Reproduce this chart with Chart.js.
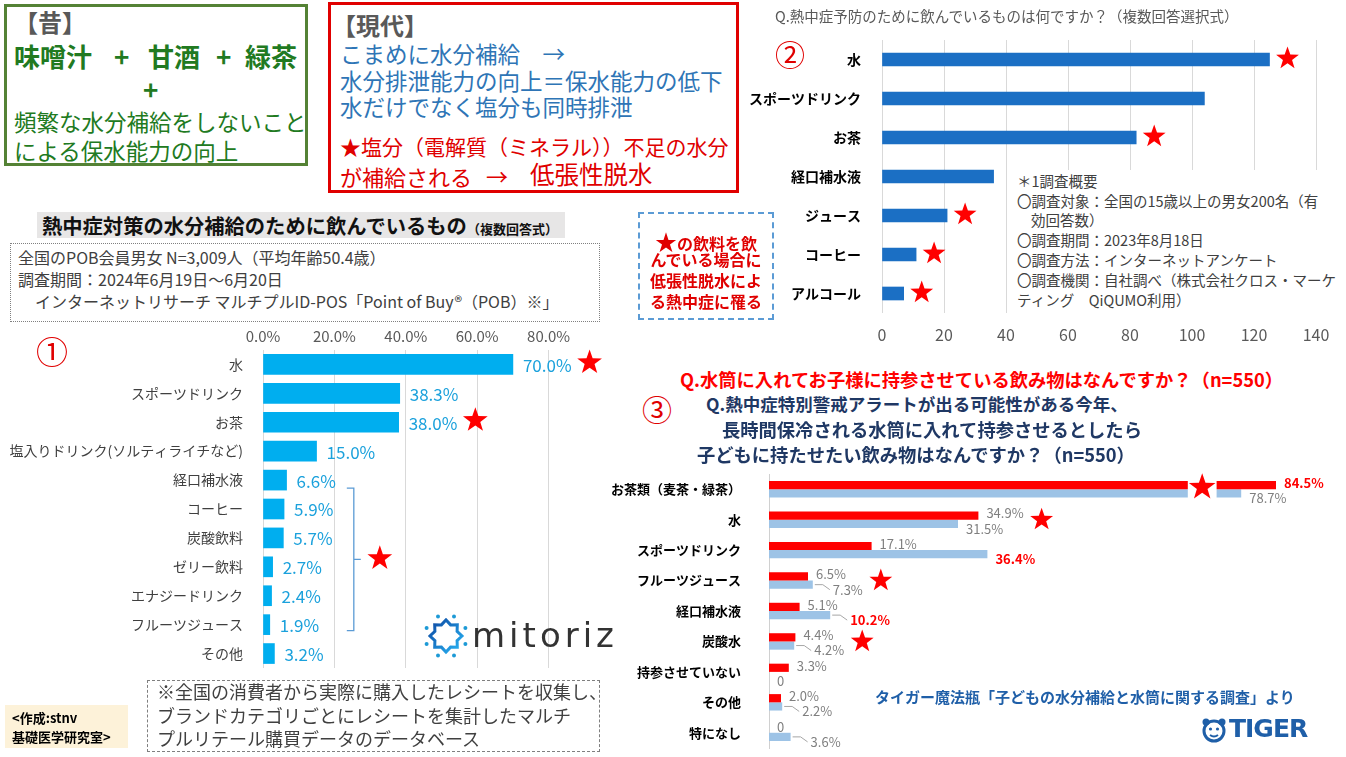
<!DOCTYPE html>
<html><head><meta charset="utf-8">
<script src="https://cdn.jsdelivr.net/npm/chart.js@4.4.1/dist/chart.umd.min.js"></script>
<style>
html,body{margin:0;padding:0;background:#fff;}
body{width:1346px;height:757px;position:relative;overflow:hidden;font-family:"Noto Sans CJK JP","Noto Sans",sans-serif;}
.a{position:absolute;white-space:nowrap;line-height:1;z-index:5;}
.box{position:absolute;box-sizing:border-box;}
canvas{position:absolute;}
</style></head><body>
<div class="box" style="left:4px;top:4px;width:304px;height:162px;border:3px solid #548235;"></div>
<div class="box" style="left:328px;top:2px;width:411px;height:191px;border:3px solid #e00000;"></div>
<div class="box" style="left:638px;top:212px;width:136px;height:108px;border:2px dashed #5b9bd5;"></div>
<div class="box" style="left:37px;top:212px;width:528px;height:26px;background:#e7e6e6;"></div>
<div class="box" style="left:10px;top:243px;width:590px;height:79px;border:1px dotted #808080;"></div>
<div class="box" style="left:147px;top:680px;width:453px;height:72px;border:1px dashed #7f7f7f;"></div>
<div class="box" style="left:5px;top:705px;width:123px;height:43px;background:#fdf2d9;"></div>

<canvas id="c1" width="640" height="368" style="left:0;top:322px"></canvas>
<canvas id="c2" width="601" height="339" style="left:745px;top:14px"></canvas>
<canvas id="c3" width="746" height="334" style="left:600px;top:444px"></canvas>
<div class="box" style="left:1010px;top:170px;width:336px;height:145px;background:#fff;z-index:3;"></div>

<script>
// ---------- data ----------
const cat1 = ['水','スポーツドリンク','お茶','塩入りドリンク(ソルティライチなど)','経口補水液','コーヒー','炭酸飲料','ゼリー飲料','エナジードリンク','フルーツジュース','その他'];
const val1 = [70.0,38.3,38.0,15.0,6.6,5.9,5.7,2.7,2.4,1.9,3.2];
const star1 = ['水','お茶'];
const bracket1 = ['経口補水液','フルーツジュース'];
const tickVals1 = [0,20,40,60,80];
const ticks1 = ['0.0%','20.0%','40.0%','60.0%','80.0%'];

const cat2 = ['水','スポーツドリンク','お茶','経口補水液','ジュース','コーヒー','アルコール'];
const val2 = [125,104,82,36,21,11,7];
const star2 = ['水','お茶','ジュース','コーヒー','アルコール'];
const tickVals2 = [0,20,40,60,80,100,120,140];
const ticks2 = ['0','20','40','60','80','100','120','140'];

const cat3 = ['お茶類（麦茶・緑茶）','水','スポーツドリンク','フルーツジュース','経口補水液','炭酸水','持参させていない','その他','特になし'];
const bring3 = [84.5,34.9,17.1,6.5,5.1,4.4,3.3,2.0,0];
const want3 = [78.7,31.5,36.4,7.3,10.2,4.2,0,2.2,3.6];
const star3 = ['お茶類（麦茶・緑茶）','水','フルーツジュース','炭酸水'];
const break3 = 'お茶類（麦茶・緑茶）';
const breakRange3 = [69.8, 74.6];

// ---------- text helper ----------
const FF = '"Noto Sans CJK JP","Noto Sans",sans-serif';
function T(txt,x,cy,size,color,o){o=o||{};const d=document.createElement('div');d.className='a';
 if(o.html)d.innerHTML=txt;else d.textContent=txt;
 d.style.left=x+'px';d.style.top=(cy-0.56*size)+'px';d.style.fontSize=size+'px';d.style.color=color;
 if(o.b)d.style.fontWeight='bold'; if(o.s)d.style.cssText+=o.s; document.body.appendChild(d);return d;}
const G='#217a21', B='#2e75b6', R='#e00000', GR='#595959';
// box 1
T('【昔】',14,23,24,GR,{b:1});
T('味噌汁',14,58,26,G,{b:1});T('+',114,58,26,G,{b:1});T('甘酒',148,58,26,G,{b:1});T('+',216,58,26,G,{b:1});T('緑茶',245,58,26,G,{b:1});
T('+',143,91,26,G,{b:1});
T('頻繁な水分補給をしないこと',14,123,22.5,G);
T('による保水能力の向上',14,152,22.5,G);
// box 2
T('【現代】',332,26,24,GR,{b:1});
T('こまめに水分補給　→',340,55,22.5,B);
T('水分排泄能力の向上＝保水能力の低下',340,82,22.5,B);
T('水だけでなく塩分も同時排泄',340,108,22.5,B);
T('★塩分（電解質（ミネラル））不足の水分',340,148,21,R);
T('が補給される',340,177,22,R);
T('→',486,176,22,R);
T('低張性脱水',530,176,24.5,R);
// dashed box
const dl=[['<span style="font-size:22px">★</span>の飲料を飲',238],['んでいる場合に',260],['低張性脱水によ',281],['る熱中症に罹る',302]];
dl.forEach(l=>{T(l[0],640,l[1],16,R,{html:1,b:1,s:'width:132px;text-align:center;'});});
// chart 1 texts
T('熱中症対策の水分補給のために飲んでいるもの<span style="font-size:13px">（複数回答式）</span>',42,226,20.3,'#111',{html:1,b:1});
T('全国のPOB会員男女 N=3,009人（平均年齢50.4歳）',18,258,16,'#404040');
T('調査期間：2024年6月19日～6月20日',18,280,16,'#404040');
T('インターネットリサーチ マルチプルID-POS「Point of Buy®（POB）※」',35,302,16,'#404040');
T('①',36,352,32,R);
T('※全国の消費者から実際に購入したレシートを収集し、',157,692,18,'#404040');
T('ブランドカテゴリごとにレシートを集計したマルチ',157,716,18,'#404040');
T('プルリテール購買データのデータベース',157,739,18,'#404040');
T('&lt;作成:stnv',12,718,13,'#000',{html:1,b:1});
T('基礎医学研究室&gt;',12,737,13,'#000',{html:1,b:1});
T('mitoriz',472,637,34,'#333',{s:'letter-spacing:4px;font-family:"DejaVu Sans",sans-serif;'});
// chart 2 texts
T('Q.熱中症予防のために飲んでいるものは何ですか？（複数回答選択式）',775,17,14.5,GR);
T('②',775,55,30,R);
const n2=[['＊1調査概要',1017,182],['〇調査対象：全国の15歳以上の男女200名（有',1017,202],['効回答数）',1031,221],['〇調査期間：2023年8月18日',1017,241],['〇調査方法：インターネットアンケート',1017,261],['〇調査機関：自社調べ（株式会社クロス・マーケ',1017,281],['ティング　QiQUMO利用）',1017,301]];
n2.forEach(l=>T(l[0],l[1],l[2],14.5,'#404040'));
// chart 3 texts
T('Q.水筒に入れてお子様に持参させている飲み物はなんですか？（n=550）',680,380,18.3,'#ff0000',{b:1});
T('③',642,410,30,R);
T('Q.熱中症特別警戒アラートが出る可能性がある今年、',706,405,17.5,'#1f3864',{b:1});
T('長時間保冷される水筒に入れて持参させるとしたら',722,430,18.3,'#1f3864',{b:1});
T('子どもに持たせたい飲み物はなんですか？（n=550）',697,455,18.3,'#1f3864',{b:1});
T('タイガー魔法瓶「子どもの水分補給と水筒に関する調査」より',875,697,15,'#1f5fa8',{b:1});
T('TIGER',1229,730,25,'#1f5fa8',{b:1,s:'font-family:"DejaVu Sans",sans-serif;letter-spacing:-1px;'});

// logos (decoration)
(function(){
 let pts=[];for(let k=0;k<16;k++){const r=k%2?12:16;const a=k*Math.PI/8;pts.push((r*Math.cos(a)).toFixed(1)+','+(r*Math.sin(a)).toFixed(1));}
 let dots='';for(let k=0;k<8;k++){const a=k*Math.PI/4+Math.PI/8;dots+=`<circle cx="${(21*Math.cos(a)).toFixed(1)}" cy="${(21*Math.sin(a)).toFixed(1)}" r="2" fill="#1d9ad6"/>`;}
 const s=document.createElement('div');s.style.cssText='position:absolute;left:423px;top:613px;z-index:5';
 s.innerHTML=`<svg width="46" height="46" viewBox="-23 -23 46 46"><defs><linearGradient id="mg" x1="0" y1="0" x2="1" y2="1"><stop offset="0" stop-color="#0d47a1"/><stop offset="1" stop-color="#29b6f6"/></linearGradient></defs><polygon points="${pts.join(' ')}" fill="none" stroke="url(#mg)" stroke-width="3"/>${dots}</svg>`;
 document.body.appendChild(s);
 const t=document.createElement('div');t.style.cssText='position:absolute;left:1200px;top:716px;z-index:5';
 t.innerHTML='<svg width="28" height="28" viewBox="0 0 28 28"><circle cx="14" cy="15" r="10" fill="none" stroke="#1f5fa8" stroke-width="3"/><circle cx="6" cy="6" r="3.5" fill="#1f5fa8"/><circle cx="22" cy="6" r="3.5" fill="#1f5fa8"/><circle cx="10.5" cy="13" r="1.6" fill="#1f5fa8"/><circle cx="17.5" cy="13" r="1.6" fill="#1f5fa8"/><path d="M10 19 Q14 22 18 19" stroke="#1f5fa8" stroke-width="2" fill="none"/></svg>';
 document.body.appendChild(t);
})();

// ---------- charts ----------
Chart.defaults.font.family = FF;
function star(ctx,cx,cy,r,color){ctx.save();ctx.beginPath();for(let k=0;k<10;k++){const rr=k%2===0?r:r*0.4;const a=-Math.PI/2+k*Math.PI/5;const px=cx+rr*Math.cos(a),py=cy+rr*Math.sin(a);k?ctx.lineTo(px,py):ctx.moveTo(px,py);}ctx.closePath();ctx.fillStyle=color||'#ff0000';ctx.fill();ctx.restore();}
const common = {indexAxis:'y',responsive:false,animation:false,events:[],plugins:{legend:{display:false},tooltip:{enabled:false}}};

// chart 1  (plot area: x 263..620, y 350..668)
new Chart(document.getElementById('c1'),{
 type:'bar',
 data:{labels:cat1,datasets:[{data:val1,backgroundColor:'#00aeef',barThickness:20}]},
 options:Object.assign({},common,{
  layout:{padding:{left:0,right:20,top:0,bottom:22}},
  scales:{
   x:{position:'top',min:0,max:100,afterBuildTicks(s){s.ticks=tickVals1.map(v=>({value:v}));},
      ticks:{callback:(v,i)=>ticks1[i],font:{size:15},color:'#595959',padding:5},
      grid:{color:'#d9d9d9',drawTicks:false},border:{display:false},afterFit(s){s.height=28;}},
   y:{ticks:{font:{size:14},color:'#404040',padding:12,autoSkip:false},grid:{display:false},border:{display:false},afterFit(s){s.width=263;}}
  }}),
 plugins:[{id:'p1',afterDatasetsDraw(chart){
  const ctx=chart.ctx;const meta=chart.getDatasetMeta(0);const ends=[];
  ctx.save();ctx.font='17px '+FF;ctx.fillStyle='#1ba1dc';ctx.textBaseline='middle';ctx.textAlign='left';
  meta.data.forEach((el,i)=>{const t=val1[i].toFixed(1)+'%';const x=el.x+10;ctx.fillText(t,x,el.y+1);ends[i]=x+ctx.measureText(t).width;
    if(star1.includes(cat1[i]))star(ctx,ends[i]+18,el.y-2,13);});
  const ys=chart.scales.y;const i0=cat1.indexOf(bracket1[0]),i1=cat1.indexOf(bracket1[1]);
  const top=ys.getPixelForValue(i0)+8,bot=ys.getPixelForValue(i1)+6,mid=(top+bot)/2;
  let bx=0;for(let i=i0;i<=i1;i++)bx=Math.max(bx,ends[i]);bx+=18;
  ctx.strokeStyle='#5b9bd5';ctx.lineWidth=1.3;ctx.beginPath();
  ctx.moveTo(bx-7,top);ctx.lineTo(bx,top);ctx.lineTo(bx,bot);ctx.lineTo(bx-7,bot);ctx.moveTo(bx,mid);ctx.lineTo(bx+7,mid);ctx.stroke();
  star(ctx,bx+26,mid-1,13);
  ctx.restore();
 }}]
});

// chart 2  (plot area: x 882..1316, y 40..313)
new Chart(document.getElementById('c2'),{
 type:'bar',
 data:{labels:cat2,datasets:[{data:val2,backgroundColor:'#1b6fc4',barThickness:13}]},
 options:Object.assign({},common,{
  layout:{padding:{left:0,right:30,top:26,bottom:0}},
  scales:{
   x:{min:0,max:140,afterBuildTicks(s){s.ticks=tickVals2.map(v=>({value:v}));},
      ticks:{callback:(v,i)=>ticks2[i],font:{size:16},color:'#595959',padding:12},
      grid:{color:'#d9d9d9',drawTicks:false},border:{display:false},afterFit(s){s.height=40;}},
   y:{ticks:{font:{size:14,weight:'bold'},color:'#000',padding:13,autoSkip:false},grid:{display:false},border:{display:false},afterFit(s){s.width=137;}}
  }}),
 plugins:[{id:'p2',afterDatasetsDraw(chart){
  const meta=chart.getDatasetMeta(0);
  meta.data.forEach((el,i)=>{if(star2.includes(cat2[i]))star(chart.ctx,el.x+18,el.y-1,12);});
 }}]
});

// chart 3  (plot area: x 769..1321, y 474..748)
new Chart(document.getElementById('c3'),{
 type:'bar',
 data:{labels:cat3,datasets:[
  {label:'持参させている',data:bring3,backgroundColor:'#ff0000',barPercentage:1,categoryPercentage:0.54},
  {label:'持たせたい',data:want3,backgroundColor:'#9dc3e6',barPercentage:1,categoryPercentage:0.54}]},
 options:Object.assign({},common,{
  layout:{padding:{left:0,right:25,top:30,bottom:30}},
  scales:{
   x:{display:false,min:0,max:92},
   y:{ticks:{font:{size:13,weight:'bold'},color:'#000',padding:20,autoSkip:false},grid:{display:false},border:{display:true,color:'#d0d0d0',width:1},afterFit(s){s.width=169;}}
  }}),
 plugins:[{id:'p3',afterDatasetsDraw(chart){
  const ctx=chart.ctx;const xs=chart.scales.x,ys=chart.scales.y;
  const mA=chart.getDatasetMeta(0),mB=chart.getDatasetMeta(1);
  const hl=[[0],[2,4]];
  ctx.save();
  const bi=cat3.indexOf(break3);
  const a=mA.data[bi],b=mB.data[bi];
  const gx1=xs.getPixelForValue(breakRange3[0]),gx2=xs.getPixelForValue(breakRange3[1]);
  ctx.fillStyle='#fff';ctx.fillRect(gx1,a.y-a.height/2-1,gx2-gx1,(b.y+b.height/2)-(a.y-a.height/2)+2);
  star(ctx,(gx1+gx2)/2,ys.getPixelForValue(bi)-2,14);
  const ends=[];ctx.textBaseline='middle';ctx.textAlign='left';
  [mA,mB].forEach((meta,d)=>{const vals=d?want3:bring3;
   meta.data.forEach((el,i)=>{const v=vals[i];const t=v===0?'0':v.toFixed(1)+'%';const isHL=hl[d].includes(i);
    ctx.font=(isHL?'bold ':'')+'13px '+FF;ctx.fillStyle=isHL?'#ff0000':'#7f7f7f';
    let x=el.x+8;const y=d===0?el.y-2:el.y+5;
    if(d===1&&v>0&&v<12){ctx.strokeStyle='#a6a6a6';ctx.lineWidth=1;ctx.beginPath();ctx.moveTo(el.x+2,el.y);ctx.lineTo(el.x+10,el.y);ctx.lineTo(el.x+17,y);ctx.stroke();x=el.x+20;}
    ctx.fillText(t,x,y);ends[i]=Math.max(ends[i]||0,x+ctx.measureText(t).width);
   });});
  cat3.forEach((c,i)=>{if(star3.includes(c)&&c!==break3)star(ctx,ends[i]+18,ys.getPixelForValue(i),12);});
  ctx.restore();
 }}]
});
</script>
</body></html>
